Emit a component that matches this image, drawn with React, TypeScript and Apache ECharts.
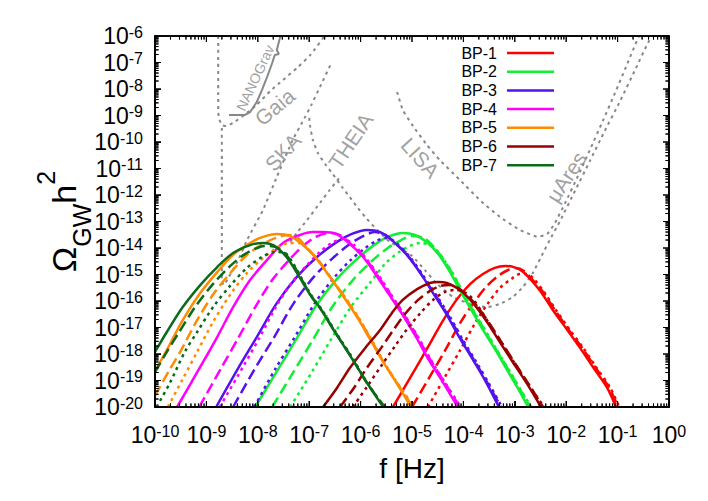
import React, { useEffect, useRef } from "react";
import * as echarts from "echarts";

// ---------- data: log10(f [Hz]), log10(Omega_GW h^2) ----------
const bpNames = ["BP-1", "BP-2", "BP-3", "BP-4", "BP-5", "BP-6", "BP-7"];
const bpColors = ["#ff0000", "#11ee33", "#5511ee", "#ff00ff", "#ff8c00", "#990000", "#0b6b1a"];

const bp1Solid = [[-5.37,-20],[-5.04,-18.91],[-4.71,-17.81],[-4.40,-16.75],[-4.12,-15.92],[-3.87,-15.36],[-3.62,-14.98],[-3.39,-14.75],[-3.19,-14.68],[-3.02,-14.72],[-2.86,-14.87],[-2.68,-15.21],[-2.49,-15.66],[-2.26,-16.34],[-1.98,-17.09],[-1.73,-17.77],[-1.48,-18.49],[-1.21,-19.25],[-1.03,-20]];
const bp1Dashed = [[-5.00,-20],[-4.67,-18.91],[-4.34,-17.81],[-4.05,-16.79],[-3.79,-16.04],[-3.56,-15.47],[-3.33,-15.06],[-3.13,-14.83],[-2.98,-14.75],[-2.82,-14.87],[-2.65,-15.21],[-2.45,-15.66],[-2.22,-16.34],[-1.95,-17.09],[-1.69,-17.77],[-1.44,-18.49],[-1.17,-19.25],[-0.99,-20]];
const bp1Dotted = [[-4.69,-20],[-4.36,-18.87],[-4.05,-17.81],[-3.77,-16.83],[-3.52,-16.08],[-3.29,-15.51],[-3.07,-15.17],[-2.90,-14.98],[-2.76,-14.98],[-2.63,-15.17],[-2.43,-15.66],[-2.20,-16.34],[-1.93,-17.09],[-1.67,-17.77],[-1.42,-18.49],[-1.15,-19.25],[-0.97,-20]];

const bp2Solid = [[-8.05,-20],[-7.65,-18.72],[-7.26,-17.47],[-6.87,-16.19],[-6.48,-15.21],[-6.09,-14.45],[-5.76,-13.92],[-5.47,-13.58],[-5.18,-13.43],[-4.94,-13.51],[-4.69,-13.81],[-4.46,-14.30],[-4.26,-14.91],[-4.07,-15.58],[-3.87,-16.26],[-3.64,-17.02],[-3.40,-17.77],[-3.15,-18.60],[-2.92,-19.36],[-2.74,-20]];
const bp2Dashed = [[-7.72,-20],[-7.32,-18.72],[-6.93,-17.47],[-6.54,-16.19],[-6.15,-15.21],[-5.78,-14.49],[-5.47,-14.00],[-5.21,-13.70],[-5.00,-13.55],[-4.77,-13.62],[-4.61,-13.89],[-4.42,-14.34],[-4.22,-14.94],[-4.03,-15.62],[-3.83,-16.30],[-3.60,-17.06],[-3.37,-17.81],[-3.11,-18.64],[-2.88,-19.40],[-2.70,-20]];
const bp2Dotted = [[-7.37,-20],[-6.96,-18.72],[-6.58,-17.47],[-6.19,-16.23],[-5.82,-15.32],[-5.51,-14.57],[-5.25,-14.15],[-5.04,-13.92],[-4.84,-13.81],[-4.65,-13.89],[-4.51,-14.11],[-4.40,-14.38],[-4.20,-14.98],[-4.01,-15.66],[-3.81,-16.34],[-3.58,-17.09],[-3.35,-17.85],[-3.09,-18.68],[-2.86,-19.43],[-2.68,-20]];

const bp3Solid = [[-8.81,-20],[-8.40,-18.60],[-8.02,-17.36],[-7.63,-16.08],[-7.24,-15.09],[-6.85,-14.34],[-6.46,-13.77],[-6.17,-13.47],[-5.88,-13.32],[-5.62,-13.40],[-5.37,-13.74],[-5.10,-14.26],[-4.84,-14.94],[-4.59,-15.70],[-4.32,-16.53],[-4.07,-17.40],[-3.81,-18.23],[-3.56,-19.06],[-3.31,-20]];
const bp3Dashed = [[-8.48,-20],[-8.07,-18.60],[-7.68,-17.36],[-7.30,-16.08],[-6.91,-15.09],[-6.54,-14.38],[-6.21,-13.85],[-5.95,-13.55],[-5.72,-13.40],[-5.51,-13.51],[-5.33,-13.81],[-5.06,-14.34],[-4.81,-15.02],[-4.55,-15.77],[-4.28,-16.60],[-4.03,-17.47],[-3.77,-18.30],[-3.52,-19.13],[-3.27,-20]];
const bp3Dotted = [[-8.07,-20],[-7.67,-18.60],[-7.28,-17.36],[-6.89,-16.08],[-6.52,-15.13],[-6.19,-14.45],[-5.91,-14.00],[-5.70,-13.74],[-5.51,-13.62],[-5.33,-13.77],[-5.04,-14.34],[-4.79,-15.02],[-4.53,-15.77],[-4.26,-16.60],[-4.01,-17.47],[-3.75,-18.30],[-3.50,-19.13],[-3.25,-20]];

const bp4Solid = [[-9.57,-20],[-9.12,-18.49],[-8.79,-17.36],[-8.48,-16.23],[-8.15,-15.21],[-7.82,-14.45],[-7.51,-13.81],[-7.18,-13.51],[-6.93,-13.40],[-6.73,-13.40],[-6.48,-13.47],[-6.23,-13.81],[-5.95,-14.34],[-5.70,-15.02],[-5.45,-15.74],[-5.18,-16.53],[-4.92,-17.36],[-4.67,-18.23],[-4.40,-19.06],[-4.11,-20]];
const bp4Dashed = [[-9.14,-20],[-8.70,-18.49],[-8.37,-17.36],[-8.05,-16.23],[-7.72,-15.21],[-7.39,-14.45],[-7.12,-13.92],[-6.87,-13.58],[-6.60,-13.43],[-6.40,-13.51],[-6.19,-13.85],[-5.91,-14.38],[-5.66,-15.06],[-5.41,-15.77],[-5.14,-16.57],[-4.88,-17.40],[-4.63,-18.26],[-4.36,-19.09],[-4.07,-20]];
const bp4Dotted = [[-8.74,-20],[-8.29,-18.49],[-7.96,-17.36],[-7.65,-16.23],[-7.33,-15.28],[-7.04,-14.64],[-6.79,-14.15],[-6.56,-13.81],[-6.34,-13.66],[-6.15,-13.85],[-5.90,-14.38],[-5.64,-15.06],[-5.39,-15.81],[-5.12,-16.60],[-4.86,-17.43],[-4.61,-18.30],[-4.34,-19.13],[-4.05,-20]];

const bp5Solid = [[-10,-18.64],[-9.77,-17.85],[-9.46,-16.72],[-9.12,-15.70],[-8.79,-14.91],[-8.48,-14.26],[-8.15,-13.81],[-7.90,-13.58],[-7.63,-13.47],[-7.37,-13.55],[-7.12,-13.89],[-6.85,-14.42],[-6.60,-15.09],[-6.34,-15.81],[-6.07,-16.60],[-5.82,-17.43],[-5.56,-18.30],[-5.29,-19.13],[-5.02,-20]];
const bp5Dashed = [[-10,-19.58],[-9.73,-18.64],[-9.49,-17.85],[-9.18,-16.72],[-8.85,-15.70],[-8.52,-14.91],[-8.21,-14.26],[-7.90,-13.85],[-7.65,-13.62],[-7.41,-13.51],[-7.22,-13.62],[-7.06,-13.96],[-6.81,-14.49],[-6.56,-15.17],[-6.30,-15.89],[-6.03,-16.68],[-5.78,-17.51],[-5.53,-18.38],[-5.25,-19.21],[-4.98,-20]];
const bp5Dotted = [[-9.75,-20],[-9.47,-18.98],[-9.18,-17.92],[-8.87,-16.79],[-8.54,-15.77],[-8.21,-14.94],[-7.90,-14.38],[-7.63,-14.00],[-7.39,-13.81],[-7.20,-13.81],[-7.02,-14.04],[-6.79,-14.57],[-6.54,-15.25],[-6.28,-15.92],[-6.01,-16.72],[-5.76,-17.55],[-5.51,-18.42],[-5.23,-19.25],[-4.96,-20]];

const bp6Solid = [[-6.73,-20],[-6.46,-19.28],[-6.21,-18.53],[-5.91,-17.77],[-5.62,-17.09],[-5.39,-16.45],[-5.18,-15.96],[-4.90,-15.55],[-4.65,-15.32],[-4.49,-15.28],[-4.32,-15.32],[-4.07,-15.58],[-3.81,-16.08],[-3.54,-16.79],[-3.29,-17.55],[-3.04,-18.30],[-2.76,-19.13],[-2.49,-20]];
const bp6Dashed = [[-6.40,-20],[-6.13,-19.28],[-5.88,-18.53],[-5.60,-17.77],[-5.35,-17.06],[-5.12,-16.45],[-4.88,-15.96],[-4.65,-15.62],[-4.44,-15.43],[-4.24,-15.40],[-4.07,-15.55],[-3.77,-16.11],[-3.50,-16.83],[-3.25,-17.58],[-3.00,-18.34],[-2.72,-19.17],[-2.45,-20]];
const bp6Dotted = [[-6.15,-20],[-5.88,-19.25],[-5.60,-18.45],[-5.33,-17.70],[-5.08,-17.02],[-4.82,-16.42],[-4.59,-15.96],[-4.36,-15.66],[-4.14,-15.58],[-3.95,-15.70],[-3.77,-16.04],[-3.48,-16.91],[-3.23,-17.66],[-2.98,-18.42],[-2.70,-19.25],[-2.43,-20]];

const bp7Solid = [[-10,-17.92],[-9.77,-17.17],[-9.46,-16.23],[-9.12,-15.40],[-8.79,-14.72],[-8.48,-14.19],[-8.15,-13.89],[-7.90,-13.81],[-7.70,-13.89],[-7.51,-14.19],[-7.37,-14.53],[-7.18,-15.13],[-6.98,-15.77],[-6.79,-16.26],[-6.50,-17.17],[-6.21,-18.04],[-5.91,-18.98],[-5.56,-20]];
const bp7Dashed = [[-10,-18.68],[-9.77,-17.92],[-9.53,-17.17],[-9.22,-16.23],[-8.89,-15.40],[-8.56,-14.72],[-8.25,-14.23],[-7.96,-13.96],[-7.76,-13.92],[-7.57,-14.04],[-7.37,-14.45],[-7.14,-15.21],[-6.95,-15.85],[-6.75,-16.38],[-6.46,-17.28],[-6.17,-18.15],[-5.88,-19.09],[-5.53,-20]];
const bp7Dotted = [[-9.97,-20],[-9.71,-19.09],[-9.42,-17.92],[-9.18,-17.17],[-8.87,-16.23],[-8.54,-15.43],[-8.21,-14.75],[-7.92,-14.34],[-7.67,-14.15],[-7.47,-14.19],[-7.33,-14.53],[-7.14,-15.17],[-6.95,-15.81],[-6.75,-16.34],[-6.46,-17.25],[-6.17,-18.11],[-5.88,-19.06],[-5.54,-20]];

// detector sensitivity curves
const gaiaCurve = [[-8.77,-6.00],[-8.77,-8.87],[-8.75,-9.13],[-8.70,-9.36],[-8.62,-9.40],[-8.48,-9.28],[-8.29,-9.02],[-8.02,-8.60],[-7.76,-8.08],[-7.51,-7.66],[-7.24,-7.21],[-6.98,-6.72],[-6.70,-6.00]];
const skaCurve = [[-8.70,-9.47],[-8.70,-15.25],[-8.66,-15.40],[-8.58,-15.15],[-8.40,-14.53],[-8.21,-13.70],[-7.90,-12.57],[-7.63,-11.32],[-7.32,-9.92],[-7.08,-9.06],[-6.95,-8.57],[-6.79,-7.92],[-6.56,-6.98]];
const theiaCurve = [[-7.37,-13.77],[-7.24,-13.43],[-7.04,-12.94],[-6.79,-12.30],[-6.60,-11.81],[-6.40,-11.32]];
const muAresCurve = [[-7.00,-9.09],[-6.98,-9.43],[-6.93,-9.92],[-6.83,-10.42],[-6.69,-10.83],[-6.54,-11.21],[-6.36,-11.70],[-6.21,-12.08],[-6.07,-12.45],[-5.91,-12.83],[-5.68,-13.32],[-5.43,-13.77],[-5.23,-14.00],[-5.00,-14.30],[-4.75,-14.83],[-4.51,-15.36],[-4.20,-15.85],[-3.87,-16.11],[-3.54,-16.23],[-3.29,-16.11],[-3.04,-15.85],[-2.84,-15.47],[-2.65,-14.94],[-2.45,-14.19],[-2.32,-13.70],[-2.12,-12.98],[-1.83,-11.85],[-1.54,-10.72],[-1.25,-9.58],[-0.95,-8.45],[-0.66,-7.28],[-0.41,-6.26],[-0.33,-6.00]];
const lisaCurve = [[-5.29,-8.11],[-5.18,-8.79],[-4.98,-9.40],[-4.71,-10.11],[-4.46,-10.68],[-4.07,-11.43],[-3.68,-12.19],[-3.29,-12.83],[-2.90,-13.32],[-2.55,-13.58],[-2.37,-13.47],[-2.22,-13.06],[-2.02,-12.30],[-1.79,-11.36],[-1.54,-10.30],[-1.28,-9.17],[-1.05,-8.15],[-0.82,-7.09],[-0.66,-6.34],[-0.58,-6.00]];
const nanogravCurve = [[-8.56,-8.98],[-8.25,-8.98],[-8.15,-8.87],[-8.02,-8.49],[-7.92,-8.04],[-7.82,-7.55],[-7.72,-7.02],[-7.67,-6.72],[-7.59,-6.68],[-7.63,-6.53],[-7.56,-6.00]];

const detectorLabels = ["NANOGrav", "Gaia", "SKA", "THEIA", "LISA", "μAres"];
const detectorLabelPos = [[-8.05,-7.58],[-7.67,-8.68],[-7.51,-10.38],[-6.19,-9.96],[-4.84,-10.60],[-2.00,-11.32]];
const detectorLabelAngle = [65, 40, 48, 56, -48, 57];
const detectorLabelSize = [14, 21, 21, 21, 21, 21];

const xDecades = [-10, -9, -8, -7, -6, -5, -4, -3, -2, -1, 0];
const yDecades = [-20, -19, -18, -17, -16, -15, -14, -13, -12, -11, -10, -9, -8, -7, -6];

const FONT = "'Liberation Sans', Arial, Helvetica, sans-serif";
const GRAY = "#888888";
const INK = "#000000";

const W = 708, H = 501;
const GRID = { left: 155, right: 39, top: 36, bottom: 94 };
const MAJOR_LEN = 6, MINOR_LEN = 3.5; // px
const LEGEND = { textRight: 497, lineLeft: 507, lineWidth: 47, top: 53, step: 18.7 };

export default function App() {
  const ref = useRef<HTMLDivElement>(null);

  useEffect(() => {
    const chart = echarts.init(ref.current!, null, { renderer: "svg" });

    const xMin = xDecades[0], xMax = xDecades[xDecades.length - 1];
    const yMin = yDecades[0], yMax = yDecades[yDecades.length - 1];
    const xPerPx = (xMax - xMin) / (W - GRID.left - GRID.right);
    const yPerPx = (yMax - yMin) / (H - GRID.top - GRID.bottom);

    const ticksFor = (decades: number[]) => {
      const out: number[][] = [];
      for (let i = 0; i < decades.length; i++) {
        out.push([decades[i], MAJOR_LEN]);
        if (i < decades.length - 1) {
          for (let k = 2; k <= 9; k++) out.push([decades[i] + Math.log10(k), MINOR_LEN]);
        }
      }
      return out;
    };
    const xt = ticksFor(xDecades);
    const yt = ticksFor(yDecades);
    const combBottom: number[][] = [];
    const combTop: number[][] = [];
    xt.forEach(([v, len]) => {
      combBottom.push([v, yMin], [v, yMin + len * yPerPx], [v, yMin]);
      combTop.push([v, yMax], [v, yMax - len * yPerPx], [v, yMax]);
    });
    const combLeft: number[][] = [];
    const combRight: number[][] = [];
    yt.forEach(([v, len]) => {
      combLeft.push([xMin, v], [xMin + len * xPerPx, v], [xMin, v]);
      combRight.push([xMax, v], [xMax - len * xPerPx, v], [xMax, v]);
    });

    const tickLabel = (v: number) => `{b|10}{s|${Math.round(v)}}`;
    const labelRich = {
      b: { fontSize: 23, lineHeight: 24, fontFamily: FONT, color: "#000" },
      s: { fontSize: 16, lineHeight: 8, verticalAlign: "top", fontFamily: FONT, color: "#000" },
    };

    const solids = [bp1Solid, bp2Solid, bp3Solid, bp4Solid, bp5Solid, bp6Solid, bp7Solid];
    const dasheds = [bp1Dashed, bp2Dashed, bp3Dashed, bp4Dashed, bp5Dashed, bp6Dashed, bp7Dashed];
    const dotteds = [bp1Dotted, bp2Dotted, bp3Dotted, bp4Dotted, bp5Dotted, bp6Dotted, bp7Dotted];

    const grayLine = (name: string, data: number[][], solid = false) => ({
      name,
      type: "line",
      data,
      showSymbol: false,
      silent: true,
      smooth: solid ? false : 0.15,
      lineStyle: { color: GRAY, width: 2, type: solid ? "solid" : [3, 4] },
      itemStyle: { color: GRAY },
      z: 2,
    });

    const series: any[] = [
      grayLine("Gaia", gaiaCurve),
      grayLine("SKA", skaCurve),
      grayLine("THEIA", theiaCurve),
      grayLine("μAres", muAresCurve),
      grayLine("LISA", lisaCurve),
      grayLine("NANOGrav", nanogravCurve, true),
    ];

    bpNames.forEach((name, i) => {
      const base = {
        type: "line",
        showSymbol: false,
        silent: true,
        smooth: 0.3,
        itemStyle: { color: bpColors[i] },
        z: 3,
      };
      series.push({ ...base, name, data: solids[i], lineStyle: { color: bpColors[i], width: 2.5, type: "solid" } });
      series.push({ ...base, name: name + " dashed", data: dasheds[i], lineStyle: { color: bpColors[i], width: 2.5, type: [11, 5] } });
      series.push({ ...base, name: name + " dotted", data: dotteds[i], lineStyle: { color: bpColors[i], width: 2.5, type: [3, 4] } });
    });

    // tick marks as comb-shaped line series along each border
    const inkLine = (name: string, data: number[][]) => ({
      name,
      type: "line",
      data,
      showSymbol: false,
      smooth: false,
      lineStyle: { color: INK, width: 1, type: "solid" },
      itemStyle: { color: INK },
      z: 3,
    });
    series.push(inkLine("ticks bottom", combBottom));
    series.push(inkLine("ticks top", combTop));
    series.push(inkLine("ticks left", combLeft));
    series.push(inkLine("ticks right", combRight));

    // detector labels as scatter labels at data coordinates
    series.push({
      name: "detector labels",
      type: "scatter",
      silent: true,
      symbolSize: 1,
      itemStyle: { color: "rgba(0,0,0,0)" },
      z: 4,
      data: detectorLabelPos.map((p, i) => ({
        value: p,
        name: detectorLabels[i],
        label: { rotate: detectorLabelAngle[i], fontSize: detectorLabelSize[i] },
      })),
      label: {
        show: true,
        position: "inside",
        formatter: "{b}",
        color: GRAY,
        fontFamily: FONT,
      },
    });

    // legend drawn as graphic items (text on the left, line sample on the right)
    const legendGraphic: any[] = [];
    bpNames.forEach((name, i) => {
      const y = LEGEND.top + LEGEND.step * i;
      legendGraphic.push({
        type: "text",
        x: LEGEND.textRight,
        y,
        silent: true,
        style: { text: name, fill: "#000", fontSize: 16, fontFamily: FONT, align: "right", verticalAlign: "middle" },
      });
      legendGraphic.push({
        type: "rect",
        silent: true,
        shape: { x: LEGEND.lineLeft, y: y - 1.25, width: LEGEND.lineWidth, height: 2.5 },
        style: { fill: bpColors[i] },
      });
    });

    chart.setOption({
      animation: false,
      backgroundColor: "#fff",
      textStyle: { fontFamily: FONT },
      grid: { ...GRID, show: true, borderColor: INK, borderWidth: 1.5 },
      graphic: legendGraphic,
      xAxis: {
        type: "value",
        min: xMin,
        max: xMax,
        interval: 1,
        axisLine: { show: true, onZero: false, lineStyle: { color: INK, width: 1.5 } },
        axisTick: { show: true, inside: true, length: MAJOR_LEN, lineStyle: { color: INK, width: 1 } },
        splitLine: { show: false },
        axisLabel: { margin: 16, showMinLabel: true, showMaxLabel: true, formatter: tickLabel, rich: labelRich },
        name: "f [Hz]",
        nameLocation: "middle",
        nameGap: 47,
        nameTextStyle: { fontSize: 28, color: "#000", fontFamily: FONT },
      },
      yAxis: {
        type: "value",
        min: yMin,
        max: yMax,
        interval: 1,
        axisLine: { show: true, onZero: false, lineStyle: { color: INK, width: 1.5 } },
        axisTick: { show: true, inside: true, length: MAJOR_LEN, lineStyle: { color: INK, width: 1 } },
        splitLine: { show: false },
        axisLabel: { margin: 12, showMinLabel: true, showMaxLabel: true, formatter: tickLabel, rich: labelRich },
        name: "{o|Ω}{g|GW}{o|h}{t|2}",
        nameLocation: "middle",
        nameRotate: 90,
        nameGap: 61,
        nameMoveOverlap: false,
        nameTextStyle: {
          color: "#000",
          fontFamily: FONT,
          rich: {
            o: { fontSize: 34, lineHeight: 61, fontFamily: FONT, color: "#000" },
            g: { fontSize: 25, lineHeight: 52, verticalAlign: "bottom", fontFamily: FONT, color: "#000" },
            t: { fontSize: 25, lineHeight: 25, verticalAlign: "top", fontFamily: FONT, color: "#000" },
          },
        },
      },
      series,
    });

    // plot frame, placed through the chart's own pixel conversion
    const p0 = chart.convertToPixel({ gridIndex: 0 }, [xMin, yMin]) as number[];
    const p1 = chart.convertToPixel({ gridIndex: 0 }, [xMax, yMax]) as number[];
    if (p0 && p1) {
      chart.setOption({
        graphic: [
          ...legendGraphic,
          {
            type: "rect",
            silent: true,
            z: 100,
            shape: { x: p0[0], y: p1[1], width: p1[0] - p0[0], height: p0[1] - p1[1] },
            style: { fill: "none", stroke: INK, lineWidth: 1.5 },
          },
        ],
      });
    }

    return () => chart.dispose();
  }, []);

  return (
    <div
      ref={ref}
      style={{ position: "absolute", left: 0, top: 0, width: W, height: H, background: "#fff" }}
    />
  );
}
